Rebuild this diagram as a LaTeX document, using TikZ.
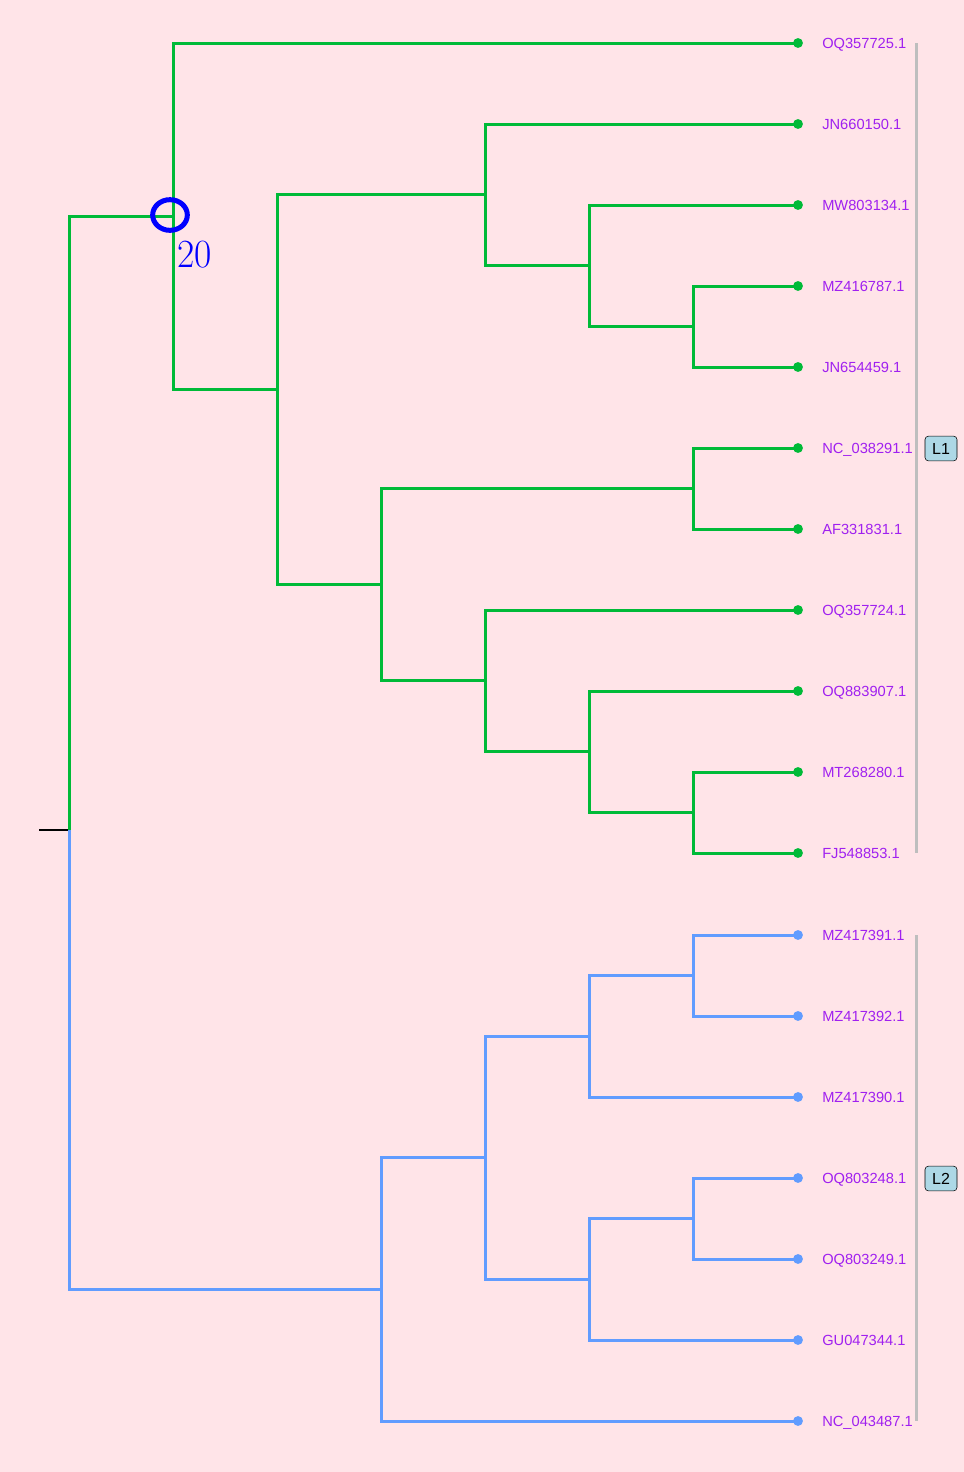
\documentclass[tikz,border=0pt]{standalone}
\usepackage{fontspec}
\setsansfont{Liberation Sans}
\usetikzlibrary{positioning, shapes.geometric}

\definecolor{bgpink}{HTML}{FFE4E8}
\definecolor{cladegreen}{HTML}{00BA38}
\definecolor{cladeblue}{HTML}{619CFF}
\definecolor{tippurple}{HTML}{A020F0}
\definecolor{labfill}{HTML}{ADD8E6}
\definecolor{bargray}{HTML}{BEBEBE}

\begin{document}
\begin{tikzpicture}[
    x=0.75pt, y=-0.75pt,
    font=\sffamily,
    branch/.style={draw=#1, line width=2.25pt},
    tipdot/.style={circle, fill=#1, inner sep=0pt, minimum size=7.4pt},
    tiplab/.style={anchor=west, inner sep=0pt, text=tippurple,
        text height=7.9pt, text depth=0pt,
        font=\sffamily\fontsize{11}{13}\selectfont},
    cladebar/.style={draw=bargray, line width=2.25pt},
    cladelab/.style={rectangle, rounded corners=2.5pt, draw=black, fill=labfill,
        minimum width=24pt, minimum height=18.5pt, inner sep=0pt,
        font=\sffamily\fontsize{12}{14}\selectfont},
]

\fill[bgpink] (0,0) rectangle (964,1472);
\useasboundingbox (0,0) rectangle (964,1472);

% internal nodes
\coordinate (root) at (69,830);
\coordinate (rtick) at (39,830);
\coordinate (nA) at (173,216.4);
\coordinate (nB) at (277,389.8);
\coordinate (nC) at (485,194.9);
\coordinate (nD) at (589,265.75);
\coordinate (nE) at (693,326.5);
\coordinate (nF) at (381,584.7);
\coordinate (nG) at (693,488.5);
\coordinate (nH) at (485,680.9);
\coordinate (nI) at (589,751.75);
\coordinate (nJ) at (693,812.5);
\coordinate (nK) at (381,1289.4);
\coordinate (nL) at (485,1157.75);
\coordinate (nM) at (589,1036.25);
\coordinate (nN) at (693,975.5);
\coordinate (nO) at (589,1279.25);
\coordinate (nP) at (693,1218.5);

% tips
\coordinate (t1) at (798,43);
\coordinate (t2) at (798,124);
\coordinate (t3) at (798,205);
\coordinate (t4) at (798,286);
\coordinate (t5) at (798,367);
\coordinate (t6) at (798,448);
\coordinate (t7) at (798,529);
\coordinate (t8) at (798,610);
\coordinate (t9) at (798,691);
\coordinate (t10) at (798,772);
\coordinate (t11) at (798,853);
\coordinate (t12) at (798,935);
\coordinate (t13) at (798,1016);
\coordinate (t14) at (798,1097);
\coordinate (t15) at (798,1178);
\coordinate (t16) at (798,1259);
\coordinate (t17) at (798,1340);
\coordinate (t18) at (798,1421);

% root
\draw[line width=1.5pt] (rtick) -- (root);
\draw[branch=cladegreen] (root) |- (nA);
\draw[branch=cladeblue] (root) |- (nK);

% L1 clade
\draw[branch=cladegreen] (nA) |- (t1);
\draw[branch=cladegreen] (nA) |- (nB);
\draw[branch=cladegreen] (nB) |- (nC);
\draw[branch=cladegreen] (nB) |- (nF);
\draw[branch=cladegreen] (nC) |- (t2);
\draw[branch=cladegreen] (nC) |- (nD);
\draw[branch=cladegreen] (nD) |- (t3);
\draw[branch=cladegreen] (nD) |- (nE);
\draw[branch=cladegreen] (nE) |- (t4);
\draw[branch=cladegreen] (nE) |- (t5);
\draw[branch=cladegreen] (nF) |- (nG);
\draw[branch=cladegreen] (nF) |- (nH);
\draw[branch=cladegreen] (nG) |- (t6);
\draw[branch=cladegreen] (nG) |- (t7);
\draw[branch=cladegreen] (nH) |- (t8);
\draw[branch=cladegreen] (nH) |- (nI);
\draw[branch=cladegreen] (nI) |- (t9);
\draw[branch=cladegreen] (nI) |- (nJ);
\draw[branch=cladegreen] (nJ) |- (t10);
\draw[branch=cladegreen] (nJ) |- (t11);

% L2 clade
\draw[branch=cladeblue] (nK) |- (nL);
\draw[branch=cladeblue] (nK) |- (t18);
\draw[branch=cladeblue] (nL) |- (nM);
\draw[branch=cladeblue] (nL) |- (nO);
\draw[branch=cladeblue] (nM) |- (nN);
\draw[branch=cladeblue] (nM) |- (t14);
\draw[branch=cladeblue] (nN) |- (t12);
\draw[branch=cladeblue] (nN) |- (t13);
\draw[branch=cladeblue] (nO) |- (nP);
\draw[branch=cladeblue] (nO) |- (t17);
\draw[branch=cladeblue] (nP) |- (t15);
\draw[branch=cladeblue] (nP) |- (t16);

% tip points and labels
\node[tipdot=cladegreen] (d1) at (t1) {};
\node[tipdot=cladegreen] (d2) at (t2) {};
\node[tipdot=cladegreen] (d3) at (t3) {};
\node[tipdot=cladegreen] (d4) at (t4) {};
\node[tipdot=cladegreen] (d5) at (t5) {};
\node[tipdot=cladegreen] (d6) at (t6) {};
\node[tipdot=cladegreen] (d7) at (t7) {};
\node[tipdot=cladegreen] (d8) at (t8) {};
\node[tipdot=cladegreen] (d9) at (t9) {};
\node[tipdot=cladegreen] (d10) at (t10) {};
\node[tipdot=cladegreen] (d11) at (t11) {};
\node[tipdot=cladeblue] (d12) at (t12) {};
\node[tipdot=cladeblue] (d13) at (t13) {};
\node[tipdot=cladeblue] (d14) at (t14) {};
\node[tipdot=cladeblue] (d15) at (t15) {};
\node[tipdot=cladeblue] (d16) at (t16) {};
\node[tipdot=cladeblue] (d17) at (t17) {};
\node[tipdot=cladeblue] (d18) at (t18) {};

\node[tiplab] (lab1) at (822,43) {OQ357725.1};
\node[tiplab] (lab2) at (822,124) {JN660150.1};
\node[tiplab] (lab3) at (822,205) {MW803134.1};
\node[tiplab] (lab4) at (822,286) {MZ416787.1};
\node[tiplab] (lab5) at (822,367) {JN654459.1};
\node[tiplab] (lab6) at (822,448) {NC\_038291.1};
\node[tiplab] (lab7) at (822,529) {AF331831.1};
\node[tiplab] (lab8) at (822,610) {OQ357724.1};
\node[tiplab] (lab9) at (822,691) {OQ883907.1};
\node[tiplab] (lab10) at (822,772) {MT268280.1};
\node[tiplab] (lab11) at (822,853) {FJ548853.1};
\node[tiplab] (lab12) at (822,935) {MZ417391.1};
\node[tiplab] (lab13) at (822,1016) {MZ417392.1};
\node[tiplab] (lab14) at (822,1097) {MZ417390.1};
\node[tiplab] (lab15) at (822,1178) {OQ803248.1};
\node[tiplab] (lab16) at (822,1259) {OQ803249.1};
\node[tiplab] (lab17) at (822,1340) {GU047344.1};
\node[tiplab] (lab18) at (822,1421) {NC\_043487.1};

% clade bars
\coordinate (bar1top) at (916,43);
\coordinate (bar1bot) at (916,853);
\coordinate (bar2top) at (916,935);
\coordinate (bar2bot) at (916,1421);
\draw[cladebar] (bar1top) -- (bar1bot);
\draw[cladebar] (bar2top) -- (bar2bot);
\node[cladelab] (cl1) at (941,448.5) {L1};
\node[cladelab] (cl2) at (941,1178.5) {L2};

% highlighted node
\node[ellipse, draw=blue, line width=3.75pt, inner sep=0pt,
      minimum width=26pt, minimum height=23pt] (hilite) at (170,215) {};
\node[anchor=base west, inner sep=0pt, text=blue,
      font=\rmfamily\fontsize{30}{32}\selectfont] (bootval) at (177,267)
    {\scalebox{0.94}[1]{20}};

\end{tikzpicture}
\end{document}
